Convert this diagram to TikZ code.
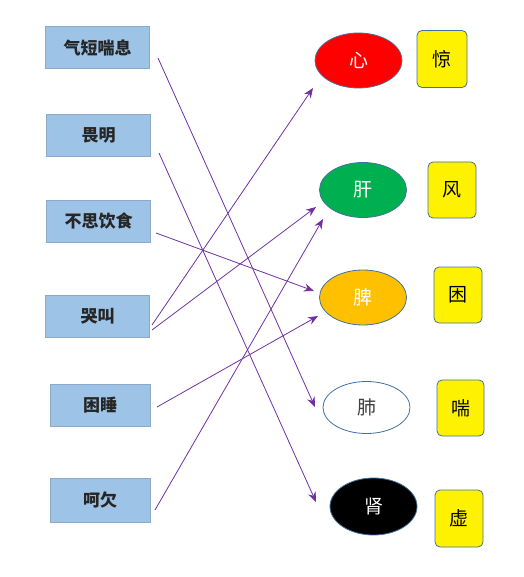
\documentclass[tikz,border=0pt]{standalone}
\usepackage{fontspec}
\newfontfamily\cjk{Noto Sans CJK SC}
\usetikzlibrary{shapes.geometric,arrows.meta}
\definecolor{lbfill}{HTML}{9DC3E6}
\definecolor{lbdraw}{HTML}{8EA9C8}
\definecolor{edge}{HTML}{41719C}
\definecolor{arr}{HTML}{7030A0}
\definecolor{grn}{HTML}{00B050}
\definecolor{org}{HTML}{FFC000}
\begin{document}
\begin{tikzpicture}[x=1pt,y=-1pt,
  lbox/.style={draw=lbdraw,line width=1pt,fill=lbfill,minimum width=104pt,minimum height=42pt,font=\cjk\bfseries\fontsize{17}{17}\selectfont,text=black!85},
  organ/.style={ellipse,draw=edge,line width=0.8pt,minimum width=87pt,minimum height=55pt,font=\cjk\fontsize{19}{19}\selectfont,text=white},
  ybox/.style={draw=edge,line width=0.8pt,fill=yellow,rounded corners=5pt,minimum width=49pt,minimum height=57pt,font=\cjk\fontsize{19}{19}\selectfont},
  link/.style={arr,line width=0.8pt,-{Stealth[length=10pt,width=8pt]}}]
\useasboundingbox (0,0) rectangle (523,577);
% left boxes
\node[lbox] (a1) at (97.5,48) {气短喘息};
\node[lbox] (a2) at (98.5,135.5) {畏明};
\node[lbox] (a3) at (98.5,221) {不思饮食};
\node[lbox] (a4) at (97.5,316) {哭叫};
\node[lbox,minimum width=100pt] (a5) at (100,405.5) {困睡};
\node[lbox,minimum width=100pt,minimum height=44pt] (a6) at (100,500) {呵欠};
% organs
\node[organ,fill=red] (o1) at (358.5,60.5) {心};
\node[organ,fill=grn] (o2) at (363,190) {肝};
\node[organ,fill=org] (o3) at (363,297.5) {脾};
\node[organ,fill=white,text=black!75,minimum height=52pt] (o4) at (366.5,407.5) {肺};
\node[organ,fill=black,minimum height=57pt] (o5) at (373.5,506.5) {肾};
% yellow boxes
\node[ybox,minimum width=50pt] (y1) at (442,59) {惊};
\node[ybox,minimum width=48pt,minimum height=56pt] (y2) at (452,190) {风};
\node[ybox,minimum width=48pt,minimum height=56pt] (y3) at (458,295) {困};
\node[ybox,minimum width=47pt,minimum height=56pt] (y4) at (460.5,408) {喘};
\node[ybox,minimum width=48pt,minimum height=57pt] (y5) at (459,518.5) {虚};
% connector ends
\coordinate (s1) at (158,58);
\coordinate (s2) at (159,153);
\coordinate (s3) at (156,233);
\coordinate (s4a) at (152,325);
\coordinate (s4b) at (152,330);
\coordinate (s5) at (157,407);
\coordinate (s6) at (155,510);
\coordinate (t1) at (313,88);
\coordinate (t2a) at (316,207);
\coordinate (t2b) at (323,219);
\coordinate (t3a) at (314,291);
\coordinate (t3b) at (318,316);
\coordinate (t4) at (315,407);
\coordinate (t5) at (316,502);
\draw[link] (s1) -- (t4);
\draw[link] (s2) -- (t5);
\draw[link] (s3) -- (t3a);
\draw[link] (s4a) -- (t1);
\draw[link] (s4b) -- (t2a);
\draw[link] (s5) -- (t3b);
\draw[link] (s6) -- (t2b);
\end{tikzpicture}
\end{document}
